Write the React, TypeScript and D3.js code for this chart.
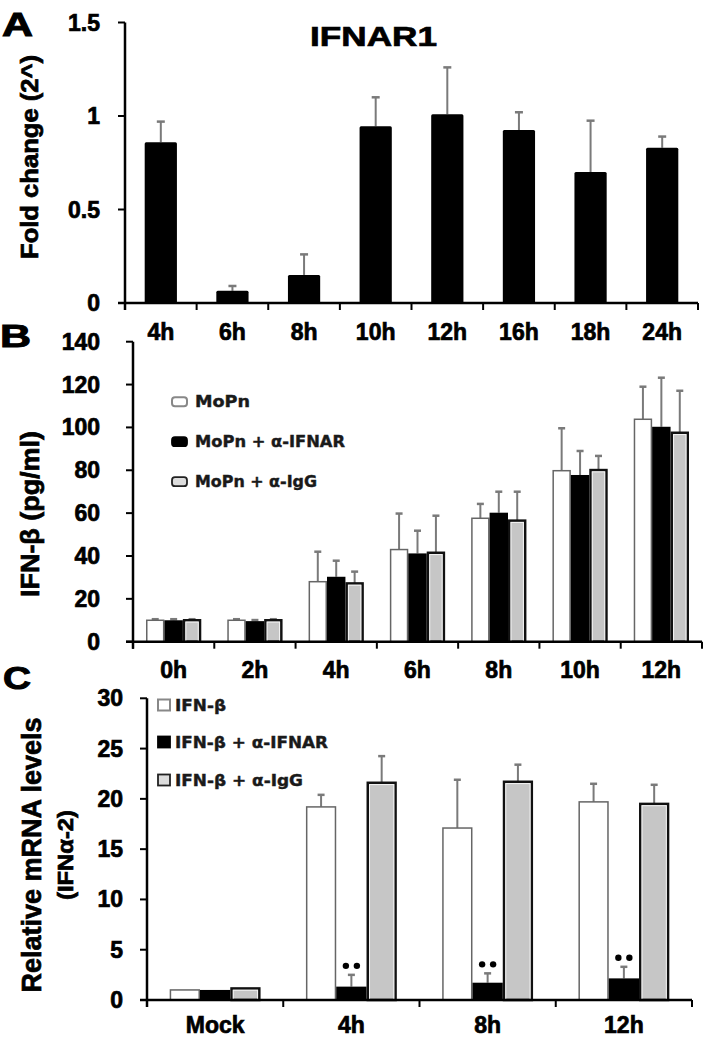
import React from "react";
import * as d3 from "d3";

// ---------- Data ----------
const catsA = ["4h", "6h", "8h", "10h", "12h", "16h", "18h", "24h"];
const valsA = [0.86, 0.065, 0.15, 0.945, 1.01, 0.925, 0.7, 0.83];
const errA = [0.11, 0.026, 0.11, 0.155, 0.25, 0.095, 0.275, 0.06];
const ticksA = [0, 0.5, 1, 1.5];

const catsB = ["0h", "2h", "4h", "6h", "8h", "10h", "12h"];
const seriesB = ["MoPn", "MoPn + α-IFNAR", "MoPn + α-IgG"];
const mopnB = [10, 10, 28, 43, 57.6, 79.8, 103.8];
const mopnErrB = [0.5, 0.5, 14, 16.8, 6.7, 19.8, 15.2];
const ifnarB = [10, 9.6, 30.3, 41.2, 60.2, 77.8, 100.3];
const ifnarErrB = [0.5, 0.5, 7.5, 10.6, 9.8, 11.2, 22.9];
const iggB = [10, 10, 27.2, 41.5, 56.5, 80.1, 97.5];
const iggErrB = [0.5, 0.5, 5.5, 17.3, 13.5, 6.6, 19.6];
const ticksB = [0, 20, 40, 60, 80, 100, 120, 140];

const catsC = ["Mock", "4h", "8h", "12h"];
const seriesC = ["IFN-β", "IFN-β + α-IFNAR", "IFN-β + α-IgG"];
const ifnbC = [1.0, 19.2, 17.1, 19.7];
const ifnbErrC = [0, 1.2, 4.8, 1.8];
const ifnarC = [1.0, 1.33, 1.72, 2.15];
const ifnarErrC = [0, 1.17, 0.93, 1.15];
const iggC = [1.15, 21.6, 21.7, 19.5];
const iggErrC = [0, 2.65, 1.7, 1.9];
const sigC = [false, true, true, true];
const ticksC = [0, 5, 10, 15, 20, 25, 30];

const FONT = "'Liberation Sans', Arial, sans-serif";
const LFONT = "'DejaVu Sans', Verdana, sans-serif";
const ERR = "#7a7a7a";
const HEAVY = { stroke: "#000", strokeWidth: 0.7 } as const;

type Style = "white" | "black" | "gray";
const styles: Style[] = ["white", "black", "gray"];

function Bar({ x, y, w, h, s }: { x: number; y: number; w: number; h: number; s: Style }) {
  if (s === "black") return <rect x={x} y={y} width={w} height={h} fill="#000" />;
  if (s === "white")
    return <rect x={x + 0.75} y={y} width={w - 1.5} height={h} fill="#fff" stroke="#666" strokeWidth={1.5} />;
  return (
    <g>
      <rect x={x + 1.25} y={y} width={w - 2.5} height={h} fill="#c6c6c6" stroke="#111" strokeWidth={2.5} />
      <rect x={x + 3} y={y + 1.8} width={Math.max(0, w - 6)} height={Math.max(0, h - 1.8)} fill="none" stroke="#f4f4f4" strokeWidth={1} />
    </g>
  );
}

function ErrBar({ cx, y0, y1, cap }: { cx: number; y0: number; y1: number; cap: number }) {
  if (Math.abs(y0 - y1) < 1) return null;
  return (
    <g stroke={ERR} strokeWidth={2}>
      <line x1={cx} x2={cx} y1={y0} y2={y1} />
      <line x1={cx - cap / 2} x2={cx + cap / 2} y1={y1} y2={y1} strokeWidth={2.5} />
    </g>
  );
}

function YAxis({ x, y, ticks, labelX, fmt }: { x: number; y: d3.ScaleLinear<number, number>; ticks: number[]; labelX: number; fmt: (v: number) => string }) {
  const [r0, r1] = y.range();
  return (
    <g>
      <line x1={x} x2={x} y1={r0 + 7} y2={r1} stroke="#000" strokeWidth={2.5} />
      {ticks.map((t) => (
        <g key={t}>
          <line x1={x - 7} x2={x} y1={y(t)} y2={y(t)} stroke="#000" strokeWidth={2} />
          <text x={labelX} y={y(t) + 8} textAnchor="end" fontFamily={FONT} fontWeight="bold" fontSize={23} {...HEAVY}>
            {fmt(t)}
          </text>
        </g>
      ))}
    </g>
  );
}

function XAxis({ x, y0, labelY, fontSize = 23 }: { x: d3.ScaleBand<string>; y0: number; labelY: number; fontSize?: number }) {
  const [a, b] = x.range();
  const dom = x.domain();
  const bounds = dom.map((d) => x(d) as number).concat([b]);
  return (
    <g>
      <line x1={a - 7} x2={b} y1={y0} y2={y0} stroke="#000" strokeWidth={2.5} />
      {bounds.map((bx, i) => (
        <line key={i} x1={bx} x2={bx} y1={y0} y2={y0 + 7} stroke="#000" strokeWidth={2} />
      ))}
      {dom.map((d) => (
        <text key={d} x={(x(d) as number) + x.bandwidth() / 2} y={labelY} textAnchor="middle" fontFamily={FONT} fontWeight="bold" fontSize={fontSize} {...HEAVY}>
          {d}
        </text>
      ))}
    </g>
  );
}

function PanelA() {
  const x = d3.scaleBand<string>().domain(catsA).range([125, 698]);
  const y = d3.scaleLinear().domain([0, 1.5]).range([303, 22.5]);
  const bw = x.step() * 0.45;
  return (
    <g>
      <text x={2} y={36} fontFamily={FONT} fontWeight="bold" fontSize={33} textLength={31} lengthAdjust="spacingAndGlyphs" {...HEAVY} strokeWidth={1}>A</text>
      <text x={310} y={46} fontFamily={FONT} fontWeight="bold" fontSize={28} textLength={127} lengthAdjust="spacingAndGlyphs" {...HEAVY}>IFNAR1</text>
      <text transform={`translate(38,157) rotate(-90)`} textAnchor="middle" fontFamily={FONT} fontWeight="bold" fontSize={23} textLength={204} lengthAdjust="spacingAndGlyphs" {...HEAVY}>
        Fold change (2^)
      </text>
      {catsA.map((c, i) => {
        const cx = (x(c) as number) + x.step() / 2;
        return (
          <g key={c}>
            <ErrBar cx={cx} y0={y(valsA[i])} y1={y(valsA[i] + errA[i])} cap={8} />
            <rect x={cx - bw / 2} y={y(valsA[i])} width={bw} height={y(0) - y(valsA[i])} fill="#000" rx={1.5} />
          </g>
        );
      })}
      <YAxis x={125} y={y} ticks={ticksA} labelX={100} fmt={(v) => String(v)} />
      <XAxis x={x} y0={y(0)} labelY={340} fontSize={23} />
    </g>
  );
}

function Legend({ x, ys, labels, lens, sw, sh, tx, rounded }: { x: number; ys: number[]; labels: string[]; lens: number[]; sw: number; sh: number; tx: number; rounded: boolean }) {
  return (
    <g>
      {labels.map((l, i) => {
        const s = styles[i];
        const yy = ys[i];
        const fill = s === "black" ? "#000" : s === "gray" ? "#ddd" : "#fff";
        const stroke = s === "black" ? "#000" : s === "gray" ? "#222" : "#888";
        return (
          <g key={l}>
            <rect x={x} y={yy - sh / 2} width={sw} height={sh} rx={rounded ? 3 : 0} fill={fill} stroke={stroke} strokeWidth={s === "white" ? 2 : 1.8} />
            <text x={tx} y={yy + 5.5} fontFamily={LFONT} fontWeight="bold" fontSize={15} fill="#1a1a1a" stroke="#1a1a1a" strokeWidth={0.4} textLength={lens[i]} lengthAdjust="spacingAndGlyphs">
              {l}
            </text>
          </g>
        );
      })}
    </g>
  );
}

function GroupPanel({ cats, vals, errs, x0, x1, yDom, yRange, ticks, labelX, labelY, fill, sig }: any) {
  const x = d3.scaleBand<string>().domain(cats).range([x0, x1]);
  const y = d3.scaleLinear().domain(yDom).range(yRange);
  const gw = x.step() * fill;
  const sub = d3.scaleBand<number>().domain([0, 1, 2]).range([0, gw]);
  return (
    <g>
      {cats.map((c: string, i: number) => {
        const gx = (x(c) as number) + x.step() / 2 - gw / 2;
        return (
          <g key={c}>
            {[0, 1, 2].map((k) => {
              const v = vals[k][i];
              const e = errs[k][i];
              const bx = gx + (sub(k) as number);
              const cx = bx + sub.bandwidth() / 2;
              return (
                <g key={k}>
                  <ErrBar cx={cx} y0={y(v)} y1={y(v + e)} cap={7} />
                  <Bar x={bx} y={y(v)} w={sub.bandwidth()} h={y(0) - y(v)} s={styles[k]} />
                  {sig && k === 1 && sig[i] ? (
                    <g fill="#000">
                      <circle cx={cx - 5.5} cy={y(v + e) - 9} r={3.2} />
                      <circle cx={cx + 5.5} cy={y(v + e) - 9} r={3.2} />
                    </g>
                  ) : null}
                </g>
              );
            })}
          </g>
        );
      })}
      <YAxis x={x0} y={y} ticks={ticks} labelX={labelX} fmt={(v) => String(v)} />
      <XAxis x={x} y0={y(0)} labelY={labelY} />
    </g>
  );
}

function PanelB() {
  return (
    <g>
      <text x={0} y={347} fontFamily={FONT} fontWeight="bold" fontSize={31} textLength={31} lengthAdjust="spacingAndGlyphs" {...HEAVY} strokeWidth={1}>B</text>
      <text transform={`translate(39,514) rotate(-90)`} textAnchor="middle" fontFamily={FONT} fontWeight="bold" fontSize={26} textLength={166} lengthAdjust="spacingAndGlyphs" {...HEAVY}>
        IFN-β (pg/ml)
      </text>
      <GroupPanel
        cats={catsB}
        vals={[mopnB, ifnarB, iggB]}
        errs={[mopnErrB, ifnarErrB, iggErrB]}
        x0={133}
        x1={702}
        yDom={[0, 140]}
        yRange={[641.7, 341.7]}
        ticks={ticksB}
        labelX={100}
        labelY={678}
        fill={0.68}
      />
      <Legend x={172} ys={[401.7, 441.7, 481.7]} labels={seriesB} lens={[55, 150, 122]} sw={15} sh={9} tx={195} rounded={true} />
    </g>
  );
}

function PanelC() {
  return (
    <g>
      <text x={3} y={689} fontFamily={FONT} fontWeight="bold" fontSize={32} textLength={28} lengthAdjust="spacingAndGlyphs" {...HEAVY} strokeWidth={1}>C</text>
      <text transform={`translate(41,855) rotate(-90)`} textAnchor="middle" fontFamily={FONT} fontWeight="bold" fontSize={27} textLength={275} lengthAdjust="spacingAndGlyphs" {...HEAVY}>
        Relative mRNA levels
      </text>
      <text transform={`translate(73,855) rotate(-90)`} textAnchor="middle" fontFamily={FONT} fontWeight="bold" fontSize={22} textLength={90} lengthAdjust="spacingAndGlyphs" {...HEAVY}>
        (IFNα-2)
      </text>
      <GroupPanel
        cats={catsC}
        vals={[ifnbC, ifnarC, iggC]}
        errs={[ifnbErrC, ifnarErrC, iggErrC]}
        x0={147}
        x1={692}
        yDom={[0, 30]}
        yRange={[1000, 698.3]}
        ticks={ticksC}
        labelX={123}
        labelY={1033}
        fill={0.667}
        sig={sigC}
      />
      <Legend x={158} ys={[705, 742, 780]} labels={seriesC} lens={[51, 153, 128]} sw={12} sh={11} tx={175} rounded={false} />
    </g>
  );
}

export default function App() {
  return (
    <svg width={703} height={1038} style={{ position: "absolute", left: 0, top: 0, background: "#fff" }}>
      <rect width={703} height={1038} fill="#fff" />
      <PanelA />
      <PanelB />
      <PanelC />
    </svg>
  );
}
